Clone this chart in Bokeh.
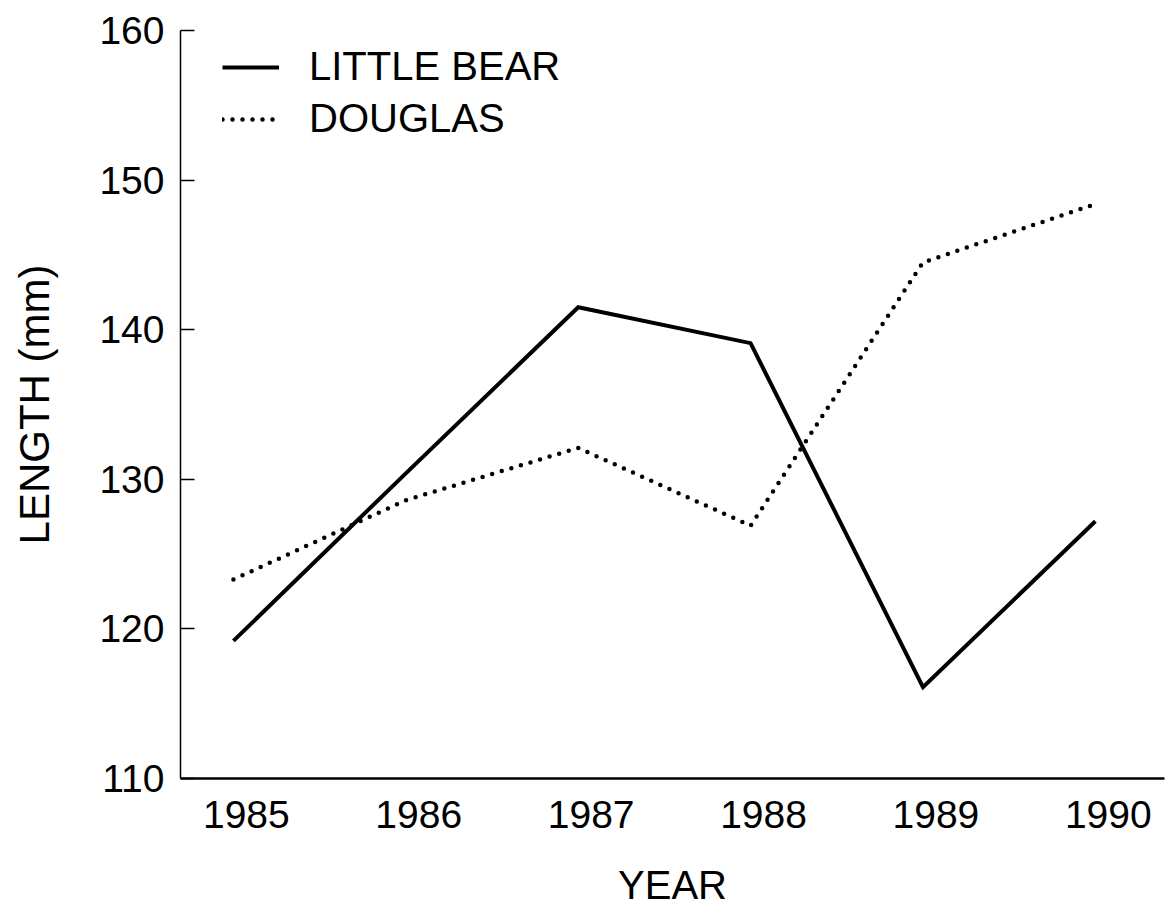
from bokeh.plotting import figure
from bokeh.models import Range1d, FixedTicker, Legend, LegendItem
from bokeh.embed import file_html
from bokeh.resources import INLINE

years = [1985, 1986, 1987, 1988, 1989, 1990]
little_bear = [119.2, 130.4, 141.5, 139.1, 116.1, 127.2]
douglas = [123.3, 128.6, 132.1, 126.9, 144.5, 148.4]
y_ticks = [110, 120, 130, 140, 150, 160]
series_names = ["LITTLE BEAR", "DOUGLAS"]

FONT = "Liberation Sans"
label_shift = 0.075  # tick labels sit slightly right of the data columns in the scan

p = figure(width=1165, height=909, output_backend="svg", toolbar_location=None,
           x_range=Range1d(1984.693, 1990.401), y_range=Range1d(110, 160),
           min_border_left=180, min_border_right=1, min_border_top=30, min_border_bottom=10)
p.outline_line_color = None
p.grid.visible = False
p.background_fill_color = "white"

lb = p.line(years, little_bear, line_color="black", line_width=4, line_join="miter")
dg = p.line(years, douglas, line_color="black", line_width=4.5, line_dash="0 10", line_cap="round")

# x axis
xt = [y + label_shift for y in years]
p.xaxis.ticker = FixedTicker(ticks=xt)
p.xaxis.major_label_overrides = {t: str(y) for t, y in zip(xt, years)}
p.xaxis.major_tick_line_color = None
p.xaxis.minor_tick_line_color = None
p.xaxis.axis_line_width = 2.5
p.xaxis.axis_line_color = "black"
p.xaxis.major_label_text_font = FONT
p.xaxis.major_label_text_font_size = "39px"
p.xaxis.major_label_text_color = "black"
p.xaxis.major_label_standoff = 16
p.xaxis.axis_label = "YEAR"
p.xaxis.axis_label_text_font = FONT
p.xaxis.axis_label_text_font_size = "40px"
p.xaxis.axis_label_text_font_style = "normal"
p.xaxis.axis_label_text_color = "black"
p.xaxis.axis_label_standoff = 32

# y axis
p.yaxis.ticker = FixedTicker(ticks=y_ticks)
p.yaxis.major_tick_in = 14
p.yaxis.major_tick_out = 0
p.yaxis.major_tick_line_width = 1.5
p.yaxis.minor_tick_line_color = None
p.yaxis.axis_line_width = 1.5
p.yaxis.axis_line_color = "black"
p.yaxis.major_label_text_font = FONT
p.yaxis.major_label_text_font_size = "39px"
p.yaxis.major_label_text_color = "black"
p.yaxis.major_label_standoff = 16
p.yaxis.axis_label = "LENGTH (mm)"
p.yaxis.axis_label_text_font = FONT
p.yaxis.axis_label_text_font_size = "42px"
p.yaxis.axis_label_text_font_style = "normal"
p.yaxis.axis_label_text_color = "black"
p.yaxis.axis_label_standoff = 38

legend = Legend(items=[LegendItem(label=series_names[0], renderers=[lb]),
                       LegendItem(label=series_names[1], renderers=[dg])],
                location=(42, 637))
legend.border_line_color = None
legend.background_fill_alpha = 0
legend.label_text_font = FONT
legend.label_text_font_size = "40px"
legend.label_text_color = "black"
legend.glyph_width = 57
legend.label_standoff = 30
legend.spacing = 7
legend.padding = 10
legend.margin = 0
p.add_layout(legend, "center")

open("out.html", "w").write(file_html(p, INLINE))
